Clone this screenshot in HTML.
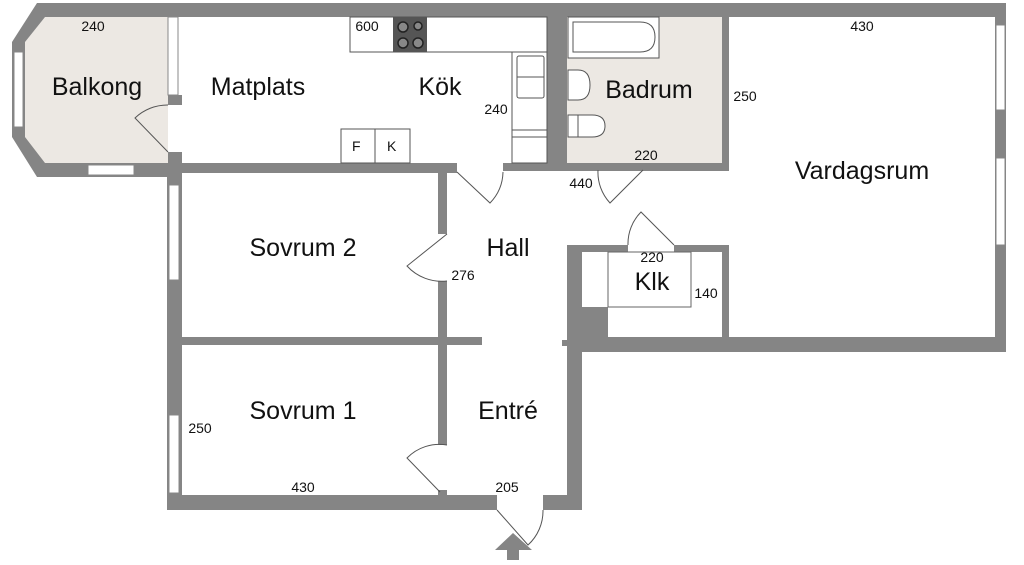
<!DOCTYPE html>
<html><head><meta charset="utf-8"><style>
html,body{margin:0;padding:0;background:#fff;}
svg{display:block;}
text{font-family:"Liberation Sans",Arial,sans-serif;fill:#111;}
.L{font-size:25px;text-anchor:middle;}
.s{font-size:14px;text-anchor:middle;}
</style></head><body>
<svg width="1024" height="565" viewBox="0 0 1024 565" xmlns="http://www.w3.org/2000/svg">
<polygon points="37,17 168,17 168,163 37,163 25,137 25,42" fill="#ece8e3"/>
<rect x="567" y="17" width="155" height="146" fill="#ece8e3"/>
<g fill="#858585">
<rect x="37" y="3" width="968" height="14"/>
<polygon points="37,3 45,17 25,42 12,42"/>
<rect x="12" y="42" width="13" height="95"/>
<polygon points="12,137 25,137 45,163 37,177"/>
<rect x="37" y="163" width="145" height="14"/>
<rect x="168" y="95" width="14" height="10"/>
<rect x="168" y="152" width="14" height="25"/>
<rect x="168" y="163" width="289" height="10"/>
<rect x="503" y="163" width="226" height="8"/>
<rect x="547" y="3" width="20" height="168"/>
<rect x="722" y="3" width="7" height="168"/>
<rect x="995" y="3" width="11" height="349"/>
<rect x="567" y="337" width="439" height="15"/>
<rect x="570" y="245" width="58" height="7"/>
<rect x="674" y="245" width="55" height="7"/>
<rect x="567" y="245" width="10" height="107"/>
<rect x="722" y="245" width="7" height="92"/>
<rect x="577" y="307" width="31" height="30"/>
<rect x="567" y="245" width="15" height="265"/>
<rect x="562" y="340" width="8" height="6"/>
<rect x="167" y="163" width="15" height="347"/>
<rect x="167" y="495" width="330" height="15"/>
<rect x="543" y="495" width="39" height="15"/>
<rect x="182" y="337" width="300" height="8"/>
<rect x="438" y="172" width="9" height="62"/>
<rect x="438" y="281" width="9" height="164"/>
<rect x="438" y="490" width="9" height="6"/>
</g>
<g fill="#fff" stroke="#888" stroke-width="1">
<rect x="168" y="17" width="10" height="78"/>
<rect x="169" y="185" width="10" height="95"/>
<rect x="169" y="415" width="10" height="78"/>
<rect x="88" y="165" width="46" height="10"/>
<rect x="996" y="25" width="9" height="85"/>
<rect x="996" y="158" width="9" height="87"/>
<rect x="14" y="52" width="9" height="75"/>
</g>
<g fill="#fff" stroke="#555" stroke-width="1">
<rect x="350" y="17" width="197" height="35"/>
<rect x="512" y="52" width="35" height="111"/>
<rect x="341" y="129" width="34" height="34"/>
<rect x="375" y="129" width="35" height="34"/>
<rect x="517" y="56" width="27" height="42" rx="2"/>
<line x1="517" y1="77" x2="544" y2="77"/>
<line x1="512" y1="130" x2="547" y2="130"/>
<line x1="512" y1="137" x2="547" y2="137"/>
</g>
<rect x="393" y="17" width="34" height="35" fill="#555"/>
<g fill="#888" stroke="#222" stroke-width="1.5">
<circle cx="403" cy="27" r="5"/><circle cx="418" cy="26" r="4"/>
<circle cx="403" cy="43" r="5"/><circle cx="418" cy="43" r="5"/>
</g>
<text x="352" y="151" font-size="14">F</text><text x="387" y="151" font-size="14">K</text>
<g fill="#fff" stroke="#555" stroke-width="1">
<rect x="568" y="17" width="91" height="41"/>
<path d="M573,22 H640 Q655,22 655,37 Q655,52 640,52 H573 Z"/>
<path d="M568,70 H578 Q590,70 590,85 Q590,100 578,100 H568 Z"/>
<path d="M568,115 H592 Q605,115 605,126 Q605,137 592,137 H568 Z"/>
<line x1="578" y1="115" x2="578" y2="137"/>
</g>
<rect x="608" y="252" width="83" height="55" fill="none" stroke="#666" stroke-width="1"/>
<g fill="none" stroke="#555" stroke-width="1">
<path d="M168,152 L135,118 A47,47 0 0 1 168,105"/>
<path d="M457,172 L490,203 A46,46 0 0 0 503,172"/>
<path d="M643,170 L610,203 A45,45 0 0 1 598,170"/>
<path d="M674,245 L641,212 A45,45 0 0 0 628,245"/>
<path d="M447,234 L407,266 A47,47 0 0 0 447,281"/>
<path d="M447,445 A45,45 0 0 0 407,458 L440,492"/>
<path d="M497,510 L528,545 A46,46 0 0 0 543,510"/>
</g>
<polygon points="513,533 532,550 519,550 519,560 507,560 507,550 495,550" fill="#858585"/>
<text class="L" x="97" y="95">Balkong</text>
<text class="L" x="258" y="95">Matplats</text>
<text class="L" x="440" y="95">Kök</text>
<text class="L" x="649" y="98">Badrum</text>
<text class="L" x="862" y="179">Vardagsrum</text>
<text class="L" x="303" y="256">Sovrum 2</text>
<text class="L" x="508" y="256">Hall</text>
<text class="L" x="652" y="290">Klk</text>
<text class="L" x="303" y="419">Sovrum 1</text>
<text class="L" x="508" y="419">Entré</text>
<text class="s" x="93" y="31">240</text>
<text class="s" x="367" y="31">600</text>
<text class="s" x="496" y="114">240</text>
<text class="s" x="745" y="101">250</text>
<text class="s" x="646" y="160">220</text>
<text class="s" x="581" y="188">440</text>
<text class="s" x="862" y="31">430</text>
<text class="s" x="652" y="262">220</text>
<text class="s" x="706" y="298">140</text>
<text class="s" x="463" y="280">276</text>
<text class="s" x="200" y="433">250</text>
<text class="s" x="303" y="492">430</text>
<text class="s" x="507" y="492">205</text>
</svg>
</body></html>
